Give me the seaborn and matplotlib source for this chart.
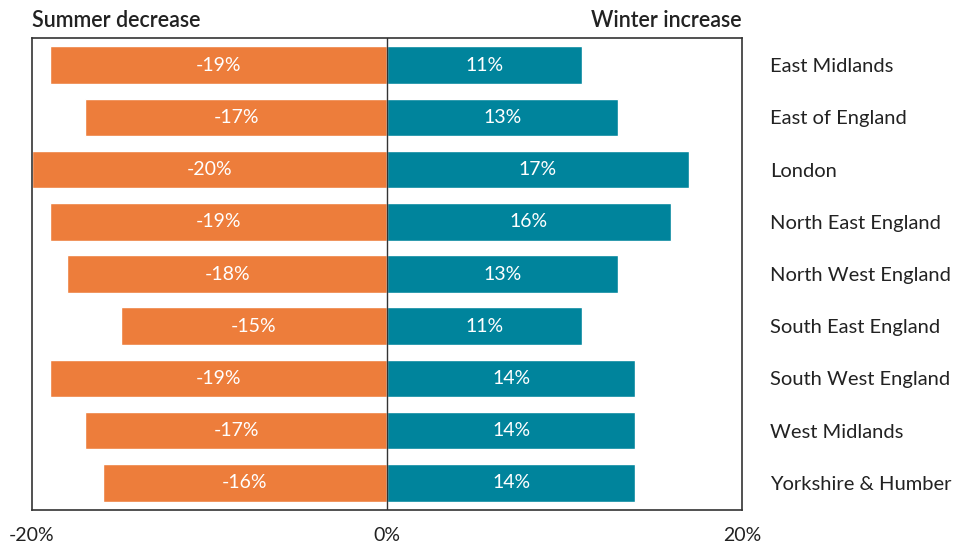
"""Seasonal change in demand by region: summer decrease vs winter increase"""

import pandas as pd
import matplotlib
matplotlib.use("Agg")
import matplotlib.pyplot as plt
import seaborn as sns

regions = ["East Midlands", "East of England", "London", "North East England",
           "North West England", "South East England", "South West England",
           "West Midlands", "Yorkshire & Humber"]
summer = [-19, -17, -20, -19, -18, -15, -19, -17, -16]
winter = [11, 13, 17, 16, 13, 11, 14, 14, 14]

ORANGE = "#ED7D3B"
TEAL = "#00849C"
DARK = "#333333"

df = pd.DataFrame({"region": regions, "summer": summer, "winter": winter})

sns.set_style("white")
plt.rcParams["font.family"] = ["Lato", "DejaVu Sans"]

fig = plt.figure(figsize=(9.57, 5.44), dpi=100)
ax = fig.add_axes([0.0334, 0.0625, 0.7419, 0.8676])

sns.barplot(data=df, x="summer", y="region", color=ORANGE, width=0.72,
            saturation=1, orient="h", ax=ax)
sns.barplot(data=df, x="winter", y="region", color=TEAL, width=0.72,
            saturation=1, orient="h", ax=ax)

# value labels inside the bars
for cont, vals in zip(ax.containers, [summer, winter]):
    ax.bar_label(cont, labels=[f"{v}%" for v in vals], label_type="center",
                 color="white", fontsize=14)

ax.axvline(0, color=DARK, lw=1)
ax.set_xlim(-20, 20)
ax.set_ylim(8.52, -0.52)
ax.set_xticks([-20, 0, 20])
ax.set_xticklabels(["-20%", "0%", "20%"])
ax.yaxis.tick_right()
ax.tick_params(axis="y", length=0, pad=20, labelsize=14.5, colors="#222222")
ax.tick_params(axis="x", length=0, pad=12, labelsize=14, colors="#222222")
ax.set_xlabel("")
ax.set_ylabel("")

for s in ax.spines.values():
    s.set_visible(True)
    s.set_color(DARK)
    s.set_linewidth(1.2)

ax.set_title("Summer decrease", loc="left", fontsize=15.5,
             fontweight="semibold", color="#222222", pad=8)
ax.set_title("Winter increase", loc="right", fontsize=15.5,
             fontweight="semibold", color="#222222", pad=8)

fig.savefig("out.png", dpi=100)
